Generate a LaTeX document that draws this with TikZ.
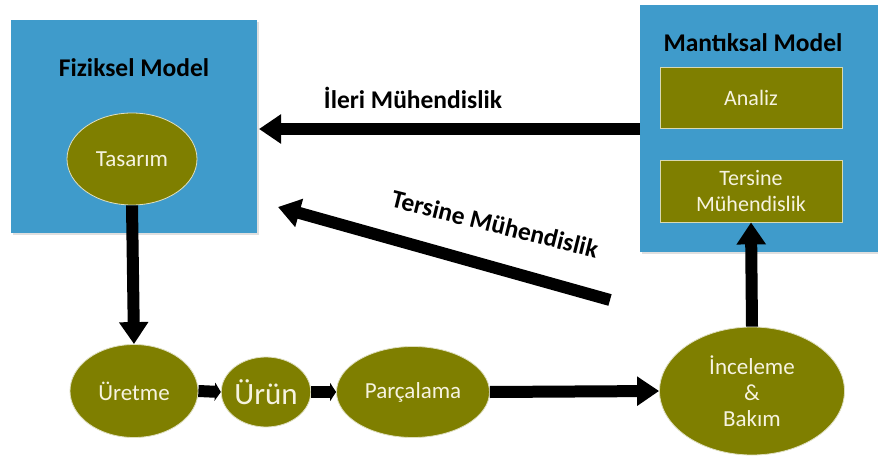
\documentclass[tikz,border=0pt]{standalone}
\usepackage{fontspec}
\setmainfont{Carlito}
\usetikzlibrary{shapes.geometric,arrows.meta,shadows}
\definecolor{boxblue}{HTML}{3F9BCB}
\definecolor{olivefill}{HTML}{7F7F00}
\definecolor{txtcream}{HTML}{F6F3E0}
\begin{document}
\begin{tikzpicture}[x=1pt,y=-1pt,
  panel/.style={rectangle, fill=boxblue, draw=none, inner sep=0pt,
    drop shadow={opacity=0.25,shadow xshift=2pt,shadow yshift=-2pt}},
  ell/.style={ellipse, fill=olivefill, draw=white!75!olivefill, line width=0.8pt,
    text=txtcream, inner sep=0pt, font=\fontsize{23}{26}\selectfont, align=center},
  obox/.style={rectangle, fill=olivefill, draw=white!70!olivefill, line width=0.8pt,
    text=txtcream, inner sep=0pt, font=\fontsize{22}{26}\selectfont, align=center},
  ttl/.style={font=\bfseries\fontsize{25.5}{30}\selectfont, text=black},
  bigarrow/.style={draw=black, line width=12pt, -{Triangle[width=28pt,length=22pt]}},
  smallarrow/.style={draw=black, line width=12pt, -{Triangle[width=18pt,length=6pt]}},
]
\path[use as bounding box, fill=white] (0,0) rectangle (878,457);

% panels
\node[panel, minimum width=246pt, minimum height=213pt] (fiz) at (134,126.5) {};
\node[panel, minimum width=238pt, minimum height=247pt, anchor=north west] (mant) at (640,5) {};

% titles
\node[ttl] (fiztitle) at (134,68) {Fiziksel Model};
\node[ttl] (manttitle) at (753,43) {Mantıksal Model};

% boxes in logical model
\node[obox, minimum width=182pt, minimum height=61pt] (analiz) at (751,98) {Analiz};
\node[obox, minimum width=182pt, minimum height=62pt] (tersbox) at (751,191) {Tersine\\Mühendislik};

% ellipses
\node[ell, minimum width=130pt, minimum height=92pt] (tas) at (132,159) {Tasarım};
\node[ell, minimum width=128pt, minimum height=93pt] (ure) at (134,391) {Üretme};
\node[ell, minimum width=88pt, minimum height=70pt, font=\fontsize{31}{34}\selectfont] (urun) at (266,392) {Ürün};
\node[ell, minimum width=153pt, minimum height=91pt] (parc) at (413,392) {Parçalama};
\node[ell, minimum width=185pt, minimum height=128pt] (inc) at (752,391) {İnceleme\\\&\\Bakım};

% connector end points
\coordinate (ileriStart) at (640,129);
\coordinate (ileriEnd) at (259,129);
\coordinate (tersStart) at (610,300);
\coordinate (tersEnd) at (278,207);

% arrows
\draw[bigarrow] (ileriStart) -- (ileriEnd);
\draw[bigarrow] (tersStart) -- (tersEnd);
\draw[bigarrow] (tas.south) -- (ure.north);
\draw[smallarrow] (ure.east) -- (urun.west);
\draw[smallarrow] (urun.east) -- (parc.west);
\draw[bigarrow] (parc.east) -- (inc.west);
\draw[bigarrow] (inc.north) -- (tersbox.south);

% arrow labels
\node[ttl] (ilerilbl) at (413,98) {İleri Mühendislik};
\node[ttl, rotate=-14] (terslbl) at (495,224) {Tersine Mühendislik};
\end{tikzpicture}
\end{document}
